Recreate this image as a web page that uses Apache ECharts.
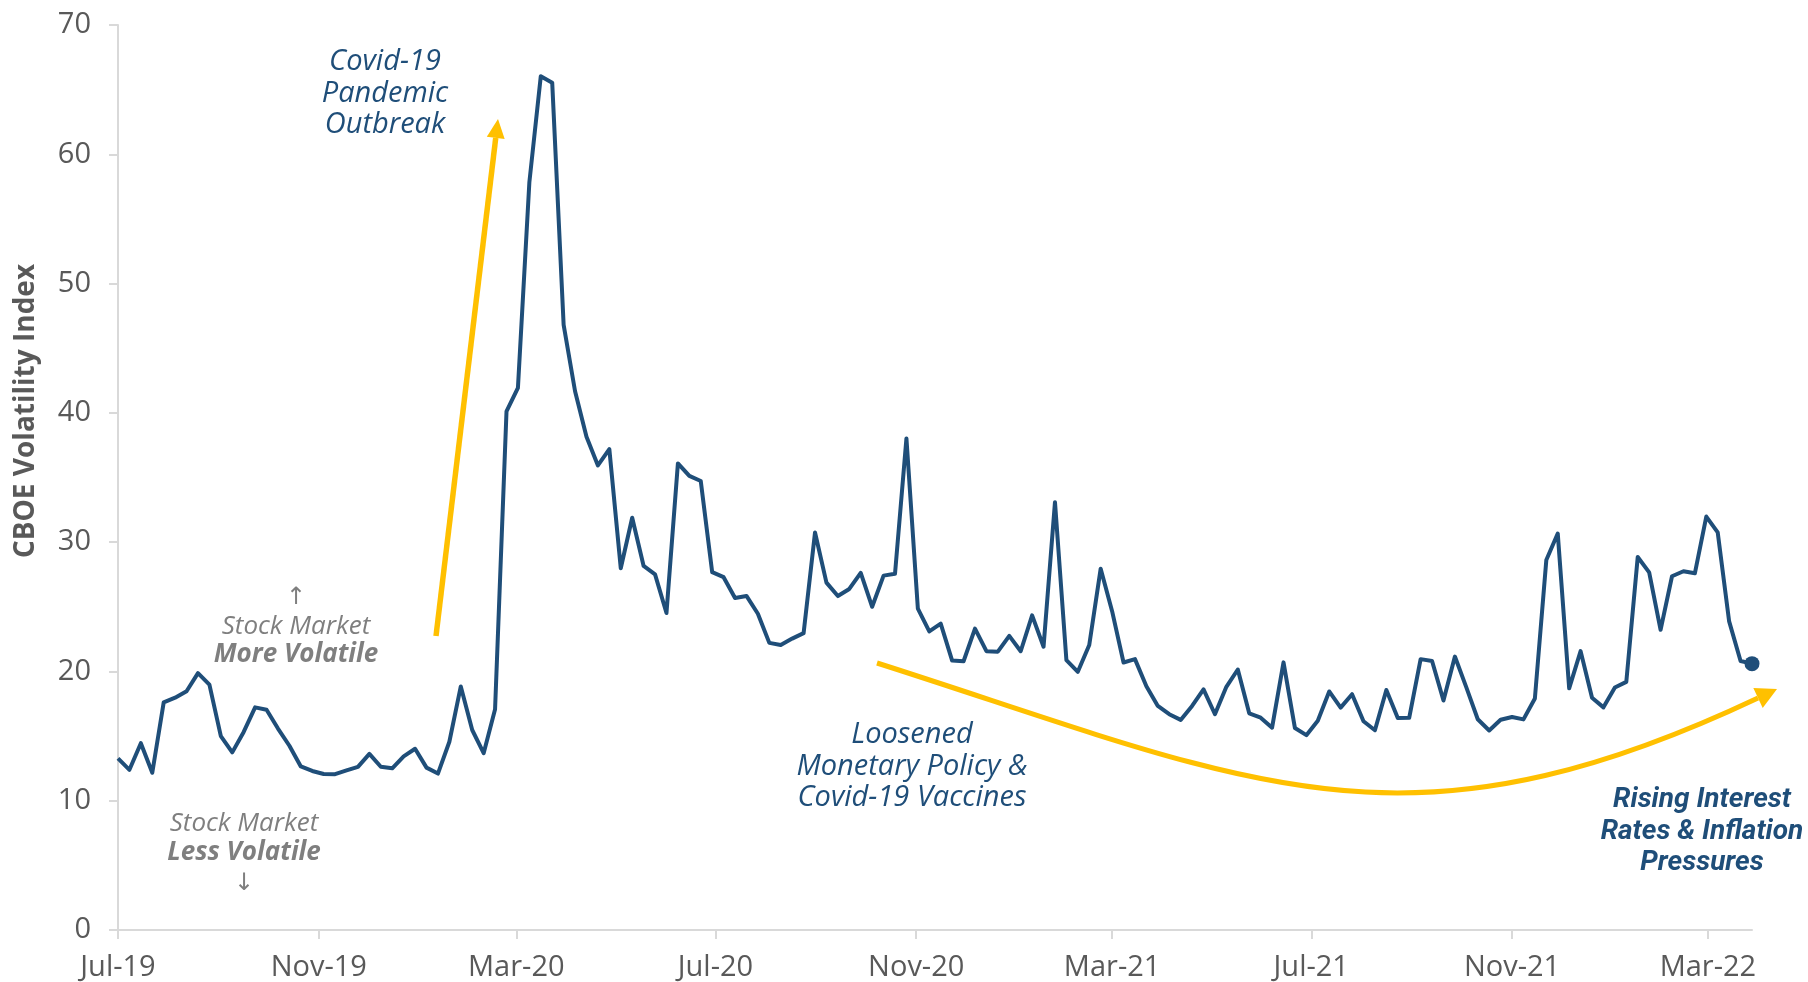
<!DOCTYPE html>
<html>
<head>
<meta charset="utf-8">
<title>CBOE Volatility Index</title>
<script src="https://cdn.jsdelivr.net/npm/echarts@6/dist/echarts.min.js"></script>
<style>
  html, body { margin: 0; padding: 0; background: #ffffff; }
  #chart { width: 1808px; height: 982px; }
</style>
</head>
<body>
<div id="chart"></div>
<script>
// Weekly VIX closes, one value per week; weeks are labelled by their Monday.
const firstWeekMonday = [2019, 6, 1]; // 1 Jul 2019 (month is zero-based)
const vixWeekly = [
  // 2019 (Jul - Dec)
  13.28, 12.39, 14.45, 12.16, 17.61, 17.97, 18.47, 19.87, 18.98, 15.00,
  13.74, 15.32, 17.22, 17.04, 15.58, 14.25, 12.65, 12.30, 12.07, 12.05,
  12.34, 12.62, 13.62, 12.63, 12.51, 13.43, 14.02,
  // 2020
  12.56, 12.10, 14.56, 18.84, 15.47, 13.68, 17.08, 40.11, 41.94, 57.83,
  66.04, 65.54, 46.80, 41.67, 38.15, 35.93, 37.19, 27.98, 31.89, 28.16,
  27.51, 24.52, 36.09, 35.12, 34.73, 27.68, 27.29, 25.68, 25.84, 24.46,
  22.21, 22.05, 22.54, 22.96, 30.75, 26.87, 25.83, 26.38, 27.63, 25.00,
  27.41, 27.55, 38.02, 24.86, 23.10, 23.70, 20.84, 20.79, 23.31, 21.57,
  21.53, 22.75,
  // 2021
  21.56, 24.34, 21.91, 33.09, 20.87, 19.97, 22.05, 27.95, 24.66, 20.69,
  20.95, 18.86, 17.33, 16.69, 16.25, 17.33, 18.61, 16.69, 18.81, 20.15,
  16.76, 16.42, 15.65, 20.70, 15.62, 15.07, 16.18, 18.45, 17.20, 18.24,
  16.15, 15.45, 18.56, 16.39, 16.41, 20.95, 20.81, 17.75, 21.15, 18.77,
  16.30, 15.43, 16.26, 16.48, 16.29, 17.91, 28.62, 30.67, 18.69, 21.57,
  17.96, 17.22,
  // 2022 (Jan - Mar)
  18.76, 19.19, 28.85, 27.66, 23.22, 27.36, 27.75, 27.59, 31.98, 30.75,
  23.87, 20.81, 20.60
];

// Date-axis ticks, every four months
const tickDates  = ['2019-07-01', '2019-11-01', '2020-03-01', '2020-07-01', '2020-11-01',
                    '2021-03-01', '2021-07-01', '2021-11-01', '2022-03-01'];
const tickLabels = ['Jul-19', 'Nov-19', 'Mar-20', 'Jul-20', 'Nov-20',
                    'Mar-21', 'Jul-21', 'Nov-21', 'Mar-22'];

const yTicks = { min: 0, max: 70, step: 10 };

// ---- derived series ---------------------------------------------------------
function localTime(s) {
  const [y, m, d] = s.split('-').map(Number);
  return new Date(y, m - 1, d).getTime();
}
const weekTimes = vixWeekly.map((_, i) =>
  new Date(firstWeekMonday[0], firstWeekMonday[1], firstWeekMonday[2] + 7 * i).getTime());
const vixSeries = vixWeekly.map((v, i) => [weekTimes[i], v]);
const lastPoint = vixSeries[vixSeries.length - 1];

const tickTimes = tickDates.map(localTime);
const labelAt = {};
tickTimes.forEach((t, i) => { labelAt[t] = tickLabels[i]; });

// ---- styling ------------------------------------------------------------------
const NAVY = '#1F4E79';
const GOLD = '#FFC000';
const AXIS_GREY = '#D9D9D9';
const LABEL_GREY = '#595959';
const NOTE_GREY = '#7F7F7F';
const FONT = '"Open Sans", "DejaVu Sans", sans-serif';

// Straight arrow (shaft + triangular head) between two pixel points
function straightArrow(x0, y0, x1, y1, headLen, headHalf, width, color) {
  const dx = x1 - x0, dy = y1 - y0, len = Math.hypot(dx, dy);
  const ux = dx / len, uy = dy / len, nx = -uy, ny = ux;
  const bx = x1 - ux * headLen, by = y1 - uy * headLen;
  return [
    { type: 'line', silent: true, shape: { x1: x0, y1: y0, x2: bx, y2: by },
      style: { stroke: color, lineWidth: width } },
    { type: 'polygon', silent: true,
      shape: { points: [[x1, y1], [bx + nx * headHalf, by + ny * headHalf], [bx - nx * headHalf, by - ny * headHalf]] },
      style: { fill: color } }
  ];
}

// Cubic curve ending in an arrow head at the tip point
function curvedArrow(p0, c1, c2, tip, headLen, headHalf, width, color) {
  const dx = tip[0] - c2[0], dy = tip[1] - c2[1], len = Math.hypot(dx, dy);
  const ux = dx / len, uy = dy / len, nx = -uy, ny = ux;
  const bx = tip[0] - ux * headLen, by = tip[1] - uy * headLen;
  return [
    { type: 'bezierCurve', silent: true,
      shape: { x1: p0[0], y1: p0[1], cpx1: c1[0], cpy1: c1[1], cpx2: c2[0], cpy2: c2[1], x2: bx, y2: by },
      style: { stroke: color, lineWidth: width, fill: null } },
    { type: 'polygon', silent: true,
      shape: { points: [tip, [bx + nx * headHalf, by + ny * headHalf], [bx - nx * headHalf, by - ny * headHalf]] },
      style: { fill: color } }
  ];
}

function note(text, x, y, opts) {
  return {
    type: 'text', silent: true, x: x, y: y,
    style: Object.assign({
      text: text, fill: NAVY, font: 'italic 29px ' + FONT,
      align: 'center', verticalAlign: 'middle'
    }, opts || {})
  };
}

const NOTE_REG = 'italic 26px ' + FONT;
const NOTE_BOLD = 'italic bold 26px ' + FONT;
const ARROW_FONT = '24px "DejaVu Sans", sans-serif';
const RATES_FONT = 'italic bold 28px Roboto, ' + FONT;

const graphics = [].concat(
  // y-axis title
  [{
    type: 'text', silent: true, x: 26, y: 411, rotation: Math.PI / 2,
    style: { text: 'CBOE Volatility Index', fill: LABEL_GREY, font: 'bold 28px ' + FONT,
             align: 'center', verticalAlign: 'middle' }
  }],
  straightArrow(436, 636, 498, 119, 19, 9, 5.5, GOLD),
  curvedArrow([877, 663], [1250, 782], [1400, 867], [1777, 689], 21, 11, 5, GOLD),
  [
    note('Covid-19', 385, 62),
    note('Pandemic', 385, 94),
    note('Outbreak', 385, 125),

    note('\u2191', 296, 598, { fill: NOTE_GREY, font: ARROW_FONT }),
    note('Stock Market', 296, 627, { fill: NOTE_GREY, font: NOTE_REG }),
    note('More Volatile', 296, 655, { fill: NOTE_GREY, font: NOTE_BOLD }),

    note('Stock Market', 244, 824, { fill: NOTE_GREY, font: NOTE_REG }),
    note('Less Volatile', 244, 853, { fill: NOTE_GREY, font: NOTE_BOLD }),
    note('\u2193', 244, 884, { fill: NOTE_GREY, font: ARROW_FONT }),

    note('Loosened', 912, 735),
    note('Monetary Policy &', 912, 767),
    note('Covid-19 Vaccines', 912, 798),

    note('Rising Interest', 1702, 800, { font: RATES_FONT }),
    note('Rates & Inflation', 1702, 832, { font: RATES_FONT }),
    note('Pressures', 1702, 863, { font: RATES_FONT })
  ]
);

const chart = echarts.init(document.getElementById('chart'), null, { renderer: 'canvas' });
chart.setOption({
  backgroundColor: '#ffffff',
  animation: false,
  grid: { left: 118, right: 56, top: 25, bottom: 52, containLabel: false },
  xAxis: {
    type: 'value',
    min: weekTimes[0],
    max: weekTimes[weekTimes.length - 1],
    splitLine: { show: false },
    axisLine: { show: true, onZero: false, lineStyle: { color: AXIS_GREY, width: 2 } },
    axisTick: { show: true, customValues: tickTimes, length: 9, inside: false,
                lineStyle: { color: AXIS_GREY, width: 2 } },
    axisLabel: {
      customValues: tickTimes,
      formatter: v => labelAt[v] || '',
      color: LABEL_GREY, fontFamily: FONT, fontSize: 29, margin: 23
    }
  },
  yAxis: {
    type: 'value',
    min: yTicks.min, max: yTicks.max, interval: yTicks.step,
    splitLine: { show: false },
    axisLine: { show: true, lineStyle: { color: AXIS_GREY, width: 2 } },
    axisTick: { show: true, length: 9, lineStyle: { color: AXIS_GREY, width: 2 } },
    axisLabel: { color: LABEL_GREY, fontFamily: FONT, fontSize: 29, margin: 27 }
  },
  series: [
    {
      type: 'line',
      data: vixSeries,
      showSymbol: false,
      symbol: 'none',
      lineStyle: { color: NAVY, width: 4, join: 'round' },
      silent: true,
      z: 3
    },
    {
      type: 'scatter',
      data: [lastPoint],
      symbol: 'circle',
      symbolSize: 15,
      itemStyle: { color: NAVY, opacity: 1 },
      silent: true,
      z: 4
    }
  ],
  graphic: graphics
});
</script>
</body>
</html>
